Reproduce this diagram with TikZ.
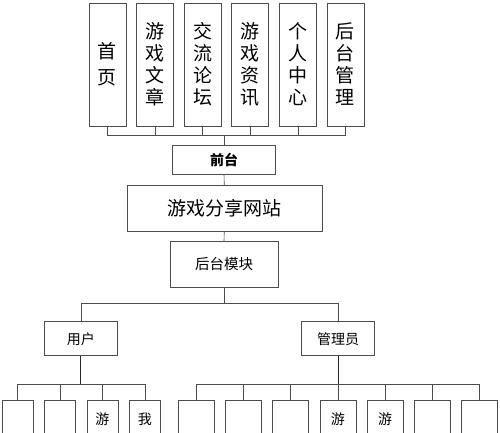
\documentclass[tikz,border=0pt]{standalone}
\usepackage{fontspec}
\setmainfont{Noto Sans CJK SC}
\usepackage{tikz}
\usetikzlibrary{positioning}

\begin{document}
\begin{tikzpicture}[x=1pt, y=-1pt,
	nosep/.style={inner sep=0pt, outer sep=0pt},
	box/.style={draw=black!70, line width=0.6pt, fill=white, nosep},
	vbox/.style={box, minimum width=37pt, minimum height=123pt, align=center, font=\fontsize{19}{22}\selectfont},
	ubox/.style={box, minimum width=31pt, minimum height=80pt, anchor=north},
	abox/.style={box, minimum width=36pt, minimum height=80pt, anchor=north},
	line/.style={draw=black!70, line width=0.6pt},
	stem/.style={draw=black!85, line width=0.9pt}
]

% Picture frame
\useasboundingbox (0,0) rectangle (500,432);

% Front-end pages
\node[vbox, font=\fontsize{19}{26}\selectfont] (t1) at (107.4,64.5) {首\\页};
\node[vbox] (t2) at (155.0,64.5) {游\\戏\\文\\章};
\node[vbox] (t3) at (202.6,64.5) {交\\流\\论\\坛};
\node[vbox] (t4) at (250.2,64.5) {游\\戏\\资\\讯};
\node[vbox] (t5) at (297.8,64.5) {个\\人\\中\\心};
\node[vbox] (t6) at (345.4,64.5) {后\\台\\管\\理};

% Main column
\node[box, minimum width=103pt, minimum height=29pt, font=\fontsize{14}{14}\selectfont\bfseries] (qt) at (224,160) {前台};
\node[box, minimum width=195pt, minimum height=46pt, font=\fontsize{19}{19}\selectfont] (site) at (224.3,208) {游戏分享网站};
\node[box, minimum width=108pt, minimum height=46pt, font=\fontsize{14.5}{14.5}\selectfont] (ht) at (224,264) {后台模块};

% Roles
\node[box, minimum width=73pt, minimum height=34pt, font=\fontsize{14}{14}\selectfont] (yh) at (80.8,338.7) {用户};
\node[box, minimum width=73pt, minimum height=34pt, font=\fontsize{14}{14}\selectfont] (gly) at (338,338.7) {管理员};

% User and admin pages (cut off at the bottom)
\foreach \i/\x in {1/17.3, 2/59.8, 3/102.3, 4/144.8}
	\node[ubox] (u\i) at (\x,400.7) {};
\foreach \i/\x in {1/196.3, 2/243.5, 3/290.7, 4/337.9, 5/385.1, 6/432.3, 7/479.5}
	\node[abox] (a\i) at (\x,400.7) {};

% Visible first characters
\node[nosep, font=\fontsize{14}{14}\selectfont, below=12pt of u3.north] (lu3) {游};
\node[nosep, font=\fontsize{14}{14}\selectfont, below=12pt of u4.north] (lu4) {我};
\node[nosep, font=\fontsize{14}{14}\selectfont, below=12pt of a4.north] (la4) {游};
\node[nosep, font=\fontsize{14}{14}\selectfont, below=12pt of a5.north] (la5) {游};

% Bus points
\coordinate (bus1) at (224,135);
\coordinate (bus2) at (224,303.3);
\coordinate (bus3) at (80.8,384);
\coordinate (bus4) at (338,384);

% Connectors
\foreach \i in {1,...,6}
	\draw[line] (t\i.south) |- (bus1);
\draw[line] (bus1) -- (qt.north);
\draw[line] (qt.south) -- (site.north);
\draw[line] (site.south) -- (ht.north);
\draw[line] (ht.south) -- (bus2);
\draw[line] (bus2) -| (yh.north);
\draw[line] (bus2) -| (gly.north);

\draw[stem] (yh.south) -- (bus3);
\draw[stem] (gly.south) -- (bus4);
\foreach \i in {1,...,4}
	\draw[line] (bus3) -| (u\i.north);
\foreach \i in {1,...,7}
	\draw[line] (bus4) -| (a\i.north);

\end{tikzpicture}
\end{document}
